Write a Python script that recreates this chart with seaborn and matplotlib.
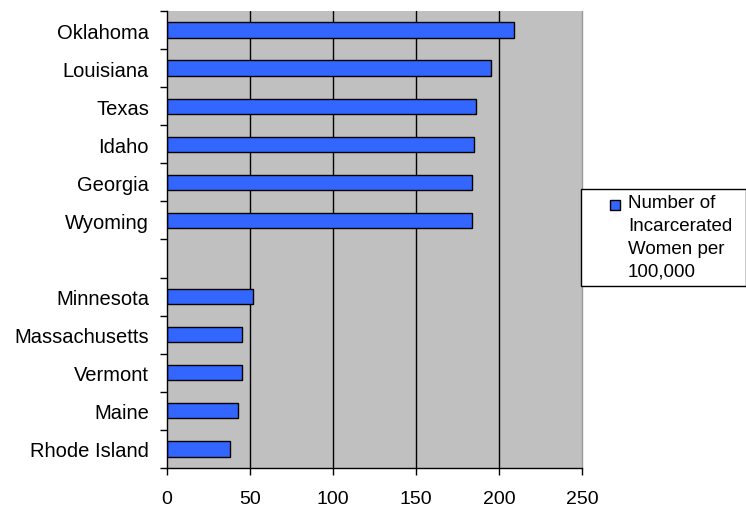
import matplotlib
matplotlib.use('Agg')
import matplotlib.pyplot as plt
from matplotlib.patches import Rectangle
from matplotlib.ticker import FixedLocator
import numpy as np
import pandas as pd
import seaborn as sns

# ------------------ DATA ------------------
states = ["Oklahoma", "Louisiana", "Texas", "Idaho", "Georgia", "Wyoming", " ",
          "Minnesota", "Massachusetts", "Vermont", "Maine", "Rhode Island"]
rates = [209, 195, 186, 185, 184, 184, np.nan, 52, 45, 45, 43, 38]
series_label = "Number of\nIncarcerated\nWomen per\n100,000"
x_ticks = [0, 50, 100, 150, 200, 250]

df = pd.DataFrame({"state": states, "rate": rates})

sns.set_style("white")
plt.rcParams['font.family'] = ['Liberation Sans', 'DejaVu Sans']
plt.rcParams['text.color'] = 'black'
plt.rcParams['xtick.color'] = 'black'
plt.rcParams['ytick.color'] = 'black'

fig = plt.figure(figsize=(7.46, 5.10), dpi=100)
ax = fig.add_axes([0.2239, 0.0804, 0.5563, 0.8961])
ax.set_facecolor("#C0C0C0")

sns.barplot(data=df, x="rate", y="state", order=states, color="#3366FF",
            saturation=1, width=0.4, edgecolor="black", linewidth=1.0, ax=ax)

ax.set_xlim(0, 250)
ax.set_ylim(len(states) - 0.5, -0.5)
ax.set_xticks(x_ticks)
ax.set_xticklabels([str(t) for t in x_ticks], fontsize=14)
ax.set_xlabel("")
ax.set_ylabel("")

# vertical gridlines
for t in x_ticks[1:-1]:
    ax.axvline(t, color="black", linewidth=1.0, zorder=0.5)

# category ticks sit between categories
ax.tick_params(axis="y", which="major", length=0, labelsize=14.5, pad=13)
ax.yaxis.set_minor_locator(FixedLocator(np.arange(-0.5, len(states), 1)))
ax.tick_params(axis="y", which="minor", length=5, width=1, color="black", direction="out", left=True)
ax.tick_params(axis="x", length=5, width=1, color="black", direction="out", bottom=True, pad=11)

for side in ["top", "right"]:
    ax.spines[side].set_visible(False)
ax.spines["left"].set_color("black")
ax.spines["bottom"].set_color("black")
ax.spines["left"].set_linewidth(1.0)
ax.spines["bottom"].set_linewidth(1.0)
ax.plot([1, 1], [0, 1], transform=ax.transAxes, color="#999999", linewidth=1.0, clip_on=False)

# legend box to the right
lx0, ly0 = 581 / 746, 1 - 287 / 510
lw, lh = 1 - lx0, (287 - 190) / 510
fig.patches.append(Rectangle((lx0, ly0), lw, lh, transform=fig.transFigure,
                             facecolor="white", edgecolor="black", linewidth=1.0))
fig.patches.append(Rectangle((610 / 746, 1 - 211 / 510), 10 / 746, 10 / 510,
                             transform=fig.transFigure, facecolor="#3366FF",
                             edgecolor="black", linewidth=1.0))
fig.text(628 / 746, 1 - 195 / 510, series_label, fontsize=13.5, va="top", ha="left",
         linespacing=1.45)

plt.savefig("out.png", dpi=100)
